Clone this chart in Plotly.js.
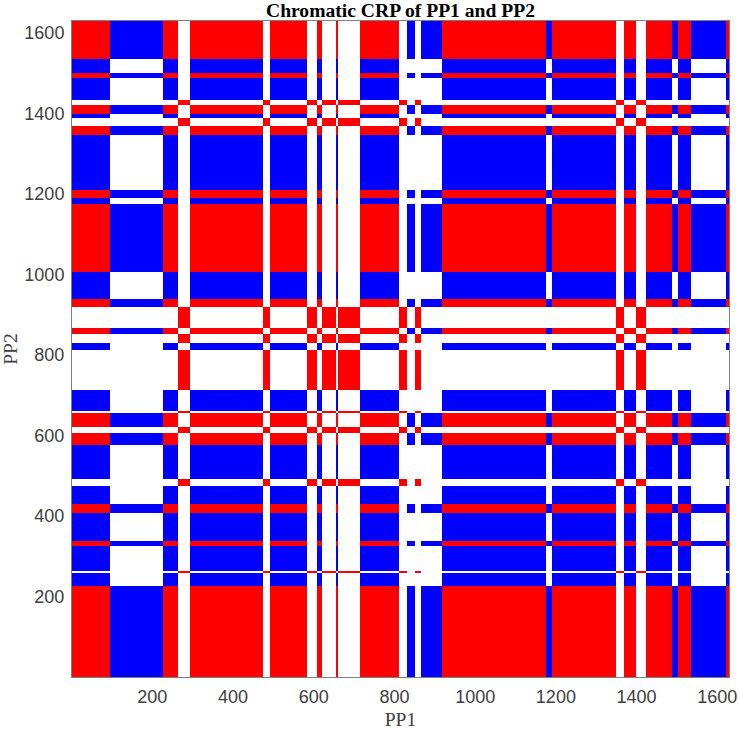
<!DOCTYPE html>
<html>
<head>
<meta charset="utf-8">
<script src="https://cdn.plot.ly/plotly-3.0.1.min.js"></script>
<style>html,body{margin:0;padding:0;background:#fff}#chart{width:739px;height:730px}</style>
</head>
<body>
<div id="chart"></div>
<script>
// Segment boundaries and class of each segment. a / b / c are the three states.
var colEdges = [1,95,227,264,293,475,492,583,607,621,655,661,715,812,830,852,867,918,1176,1190,1348,1370,1398,1423,1488,1502,1536,1621,1629];
var colTypes = ['a','b','a','c','a','c','a','c','a','c','a','c','a','c','b','c','b','a','b','a','c','a','c','a','b','a','b','a'];
var rowEdges = [0.5,227,258,263,324.5,338,407,429.5,475,491.5,577,605.5,620.5,656.5,660,713.5,812,830,851,866,918,938,1005,1174.5,1188.5,1208.5,1347,1369,1387,1397,1421,1433,1487,1501,1535.5,1629];
var rowTypes = ['a','b','c','b','a','b','a','b','c','b','a','c','a','c','b','c','b','c','a','c','a','b','a','b','a','b','a','c','b','a','c','b','a','b','a'];
// Colour code of each state pair: 0 white, 1 blue, 2 red
var pairCode = {
  a: {a: 2, b: 1, c: 0},
  b: {a: 1, b: 0, c: 0},
  c: {a: 0, b: 0, c: 2}
};
var xTicks = [200,400,600,800,1000,1200,1400,1600];
var yTicks = [200,400,600,800,1000,1200,1400,1600];

var z = rowTypes.map(function (r) {
  return colTypes.map(function (c) { return pairCode[r][c]; });
});

var serif = '"Liberation Serif", "Times New Roman", serif';
var sans = '"Liberation Sans", Arial, sans-serif';

Plotly.newPlot('chart', [{
  type: 'heatmap',
  x: colEdges,
  y: rowEdges,
  z: z,
  zmin: 0,
  zmax: 2,
  showscale: false,
  hoverinfo: 'x+y',
  colorscale: [
    [0, '#ffffff'], [0.3333, '#ffffff'],
    [0.3333, '#0000ff'], [0.6667, '#0000ff'],
    [0.6667, '#ff0000'], [1, '#ff0000']
  ]
}], {
  width: 739,
  height: 730,
  margin: {l: 72, r: 10, t: 20.5, b: 52.5},
  paper_bgcolor: '#ffffff',
  plot_bgcolor: '#ffffff',
  title: {
    text: '<b>Chromatic CRP of PP1 and PP2</b>',
    font: {family: serif, size: 19.6, color: '#000000'},
    x: 0.5, xref: 'paper', xanchor: 'center',
    y: 0.9865, yref: 'container', yanchor: 'middle'
  },
  xaxis: {
    range: [1, 1629],
    tickvals: xTicks,
    ticktext: xTicks.map(String),
    ticks: 'outside',
    ticklen: 3,
    tickcolor: 'rgba(0,0,0,0)',
    showgrid: false,
    zeroline: false,
    showline: true,
    mirror: true,
    linecolor: '#7f7f7f',
    linewidth: 1,
    tickfont: {family: sans, size: 18, color: '#404040'},
    title: {text: 'PP1', font: {family: serif, size: 19.6, color: '#404040'}, standoff: 6}
  },
  yaxis: {
    range: [0.5, 1629],
    tickvals: yTicks,
    ticktext: yTicks.map(String),
    ticks: 'outside',
    ticklen: 3,
    tickcolor: 'rgba(0,0,0,0)',
    showgrid: false,
    zeroline: false,
    showline: true,
    mirror: true,
    linecolor: '#7f7f7f',
    linewidth: 1,
    tickfont: {family: sans, size: 18, color: '#404040'},
    title: {text: 'PP2', font: {family: serif, size: 19.6, color: '#404040'}, standoff: 4}
  }
}, {displayModeBar: false});
</script>
</body>
</html>
